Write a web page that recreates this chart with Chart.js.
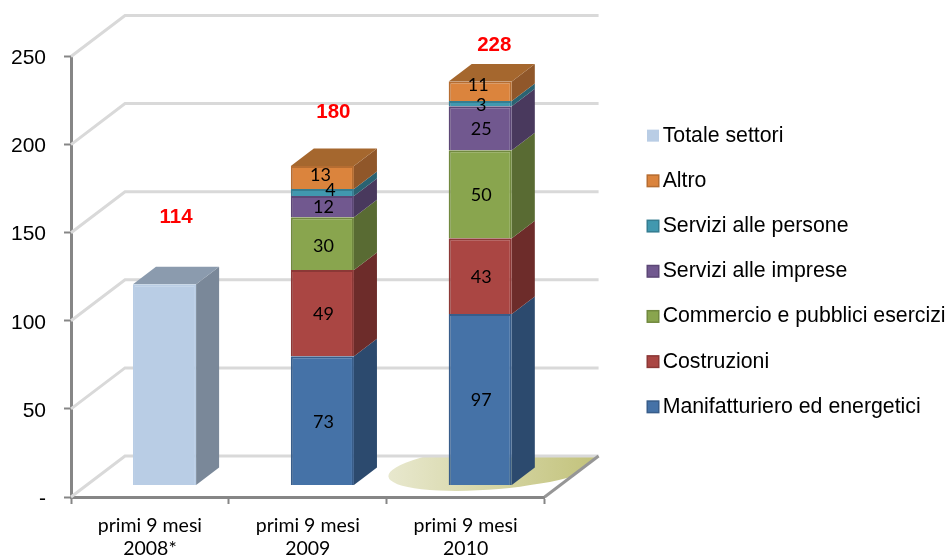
<!DOCTYPE html>
<html>
<head>
<meta charset="utf-8">
<style>html,body{margin:0;padding:0;background:#fff}canvas{display:block}</style>
<script src="https://cdn.jsdelivr.net/npm/chart.js@4"></script>
</head>
<body>
<canvas id="c" width="949" height="558"></canvas>
<script>
const categories = [['primi 9 mesi','2008*'],['primi 9 mesi','2009'],['primi 9 mesi','2010']];
const manifatturiero = [null,73,97];
const costruzioni = [null,49,43];
const commercio = [null,30,50];
const serviziImprese = [null,12,25];
const serviziPersone = [null,4,3];
const altro = [null,13,11];
const totaleSettori = [114,null,null];
const totals = [114,180,228];
const yTicks = [0,50,100,150,200,250];

const seriesDefs = [
  {label:'Manifatturiero ed energetici',data:manifatturiero,face:'#4572A7',side:'#2C4A6E',top:'#38608E',edge:'#385D8A'},
  {label:'Costruzioni',data:costruzioni,face:'#AA4643',side:'#6D2C2A',top:'#8A3836',edge:'#8C3836'},
  {label:'Commercio e pubblici esercizi',data:commercio,face:'#89A54E',side:'#596B33',top:'#71883F',edge:'#71893F'},
  {label:'Servizi alle imprese',data:serviziImprese,face:'#71588F',side:'#49395D',top:'#5C4776',edge:'#5C4776'},
  {label:'Servizi alle persone',data:serviziPersone,face:'#4198AF',side:'#2A6372',top:'#357D91',edge:'#357D91'},
  {label:'Altro',data:altro,face:'#DB843D',side:'#90572A',top:'#A5672E',edge:'#B66D31'},
  {label:'Totale settori',data:totaleSettori,face:'#B9CDE5',side:'#7A8899',top:'#8B9BAE',edge:'#B9CDE5'}
];

// 3D look
const wallDX = 54, wallDY = -41;      // depth of the plot floor/walls
const barDX = 23, barDY = -17.5;      // depth of the bars
const barShiftX = 14.6;               // bars sit deeper than the axis category centres
const barLiftValue = 6.81;            // bars stand on the floor, above the front edge
const totalOffsets = [[11.5,-67],[11,-54],[14,-36]];
const labelNudges = {'1:2':[0,2],'1:4':[7,-3],'1:5':[-3,-3],'2:4':[0,1],'2:5':[-3,-7]};
const dataFont = '18px Lato';
const legendShift = -36;

function poly(ctx, pts, fill){
  ctx.beginPath();
  pts.forEach((p,i)=> i ? ctx.lineTo(p[0],p[1]) : ctx.moveTo(p[0],p[1]));
  ctx.closePath();
  ctx.fillStyle = fill;
  ctx.fill();
}

const depthPlugin = {
  id:'depth',
  afterLayout(chart){
    const lg = chart.legend;
    const pad = lg.options.labels.padding;
    const w = lg.right - lg.left;
    lg.left = 652 - pad; lg.right = lg.left + w;
    lg.top += legendShift; lg.bottom += legendShift;
  },
  beforeDatasetsDraw(chart){
    const ctx = chart.ctx, a = chart.chartArea, y = chart.scales.y;
    ctx.save();
    const fy = y.getPixelForValue(0);
    // floor patch
    ctx.save();
    ctx.beginPath();
    ctx.moveTo(a.left,fy);ctx.lineTo(a.left+wallDX,fy+wallDY);ctx.lineTo(a.right+wallDX,fy+wallDY);ctx.lineTo(a.right,fy);ctx.closePath();
    ctx.clip();
    const g = ctx.createLinearGradient(388,0,600,0);
    g.addColorStop(0,'#E8E8CE');g.addColorStop(1,'#C2C27A');
    ctx.fillStyle = g;
    ctx.beginPath();
    ctx.ellipse(497,467,109,22,-5*Math.PI/180,0,Math.PI*2);
    ctx.fill();
    ctx.restore();
    // walls
    ctx.strokeStyle = '#D9D9D9';
    ctx.lineWidth = 3;
    yTicks.forEach(v=>{
      const py = y.getPixelForValue(v);
      ctx.beginPath();
      ctx.moveTo(a.left,py);
      ctx.lineTo(a.left+wallDX,py+wallDY);
      ctx.lineTo(a.right+wallDX,py+wallDY);
      ctx.stroke();
    });
    ctx.strokeStyle = '#969696';
    ctx.beginPath();
    ctx.moveTo(a.right,fy);ctx.lineTo(a.right+wallDX,fy+wallDY);
    ctx.stroke();
    ctx.restore();
    // bars
    ctx.save();
    ctx.translate(barShiftX,0);
    chart.data.labels.forEach((_,j)=>{
      let topEl=null, topDef=null;
      seriesDefs.forEach((d,i)=>{
        if (d.data[j]==null) return;
        const el = chart.getDatasetMeta(i).data[j];
        const r = el.x+el.width/2;
        poly(ctx,[[r,el.base],[r+barDX,el.base+barDY],[r+barDX,el.y+barDY],[r,el.y]],d.side);
        topEl = el; topDef = d;
      });
      if (topEl){
        const l = topEl.x-topEl.width/2, r = topEl.x+topEl.width/2, t = topEl.y;
        poly(ctx,[[l,t],[l+barDX,t+barDY],[r+barDX,t+barDY],[r,t]],topDef.top);
      }
    });
  },
  afterDatasetsDraw(chart){
    const ctx = chart.ctx;
    ctx.textAlign='center';ctx.textBaseline='middle';ctx.fillStyle='#000';ctx.font=dataFont;
    seriesDefs.forEach((d,i)=>{
      if (d.label==='Totale settori') return;
      d.data.forEach((v,j)=>{
        if (v==null) return;
        const el = chart.getDatasetMeta(i).data[j];
        const n = labelNudges[j+':'+i] || [0,0];
        ctx.fillText(String(v), el.x+n[0]+1, (el.y+el.base)/2+n[1]+1);
      });
    });
    ctx.restore();
    // totals
    ctx.save();
    ctx.textAlign='center';ctx.textBaseline='middle';ctx.fillStyle='#FF0000';ctx.font='bold 20.5px "Liberation Sans"';
    totals.forEach((t,j)=>{
      let topY=Infinity, x=0;
      seriesDefs.forEach((d,i)=>{
        if (d.data[j]==null) return;
        const el=chart.getDatasetMeta(i).data[j];
        x=el.x+barShiftX; topY=Math.min(topY,el.y);
      });
      ctx.fillText(String(t), x+totalOffsets[j][0], topY+totalOffsets[j][1]);
    });
    ctx.restore();
  },
  afterDraw(chart){
    const ctx = chart.ctx, lg = chart.legend;
    const pad = lg.options.labels.padding;
    const itemH = lg.legendHitBoxes[0].height;
    const start = (lg.top + pad + lg.bottom - lg.columnSizes[0].height)/2;
    ctx.save();
    const order = seriesDefs.slice().reverse();
    order.forEach((d,i)=>{
      const cy = start + i*(itemH+pad) + itemH/2, x = lg.left+pad-5, s = 12;
      ctx.fillStyle = d.face;
      ctx.fillRect(x,cy-s/2,s,s);
      if (d.label!=='Totale settori'){
        ctx.strokeStyle = d.edge;
        ctx.lineWidth = 1.5;
        ctx.strokeRect(x+.25,cy-s/2+.25,s-.5,s-.5);
      }
    });
    ctx.restore();
  }
};

new Chart(document.getElementById('c'),{
  type:'bar',
  data:{
    labels:categories,
    datasets:seriesDefs.map(d=>({
      label:d.label,data:d.data,backgroundColor:d.face,borderColor:d.edge,borderWidth:2,
      yAxisID:'yBar',xAxisID:'x',stack:'s',barPercentage:0.4,categoryPercentage:1,clip:false
    }))
  },
  plugins:[depthPlugin],
  options:{
    responsive:false,animation:false,devicePixelRatio:1,
    layout:{padding:{left:0,top:56.5,right:77,bottom:0}},
    plugins:{
      title:{display:false},tooltip:{enabled:false},
      legend:{
        display:true,position:'right',reverse:true,maxWidth:330,
        labels:{
          boxWidth:0,padding:23.9,color:'#000',
          font:{family:'"Liberation Sans"',size:21.3},
          generateLabels(chart){
            return chart.data.datasets.map((ds,i)=>({text:ds.label,fillStyle:'transparent',strokeStyle:'transparent',lineWidth:0,datasetIndex:i,hidden:false,fontColor:'#000'}));
          }
        }
      }
    },
    scales:{
      x:{
        type:'category',stacked:true,offset:true,position:'bottom',
        afterFit(s){s.height=61;},
        border:{display:true,color:'#868686',width:3},
        grid:{display:true,offset:true,drawOnChartArea:false,drawTicks:true,tickLength:7,tickWidth:2,tickColor:'#868686',color:'#868686'},
        ticks:{color:'#000',padding:10,maxRotation:0,font:{family:'Lato',size:19.5,lineHeight:1.18}}
      },
      y:{
        type:'linear',position:'left',min:0,max:250,
        afterFit(s){s.width=71;},
        afterBuildTicks(s){s.ticks=yTicks.map(v=>({value:v}));},
        border:{display:true,color:'#868686',width:3},
        grid:{display:true,drawOnChartArea:false,drawTicks:true,tickLength:7,tickWidth:2,tickColor:'#868686'},
        ticks:{color:'#000',padding:18,labelOffset:2,font:{family:'"Liberation Sans"',size:21},callback:v=>v===0?'-':String(v)}
      },
      yBar:{type:'linear',display:false,stacked:true,min:-barLiftValue,max:250-barLiftValue}
    }
  }
});
</script>
</body>
</html>
